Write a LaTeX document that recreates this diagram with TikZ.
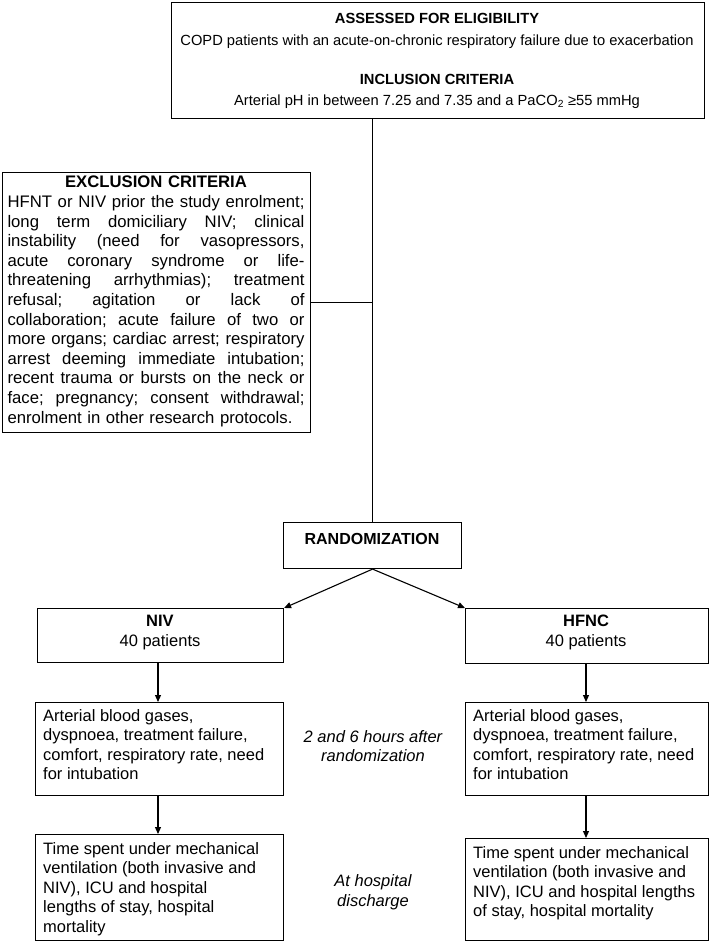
\documentclass[tikz,border=0pt]{standalone}
\usepackage{fontspec}
\setmainfont{Liberation Sans}
\usetikzlibrary{arrows.meta}
\newcommand\jline[1]{\leavevmode\hbox to 297pt{\frenchspacing\spaceskip=0.278em plus 1fil\relax #1}}
\begin{document}
\begin{tikzpicture}[x=1pt,y=-1pt,
  box/.style={draw, line width=1.1pt, inner sep=0pt},
  txt/.style={inner sep=0pt, font=\fontsize{16.5}{19.5}\selectfont},
  toptxt/.style={inner sep=0pt, font=\fontsize{14.7}{19.5}\selectfont},
  arr/.style={line width=1.1pt, -{Triangle[length=7pt,width=6pt]}},
  ln/.style={line width=1.1pt}]
\useasboundingbox (0,0) rectangle (710,948);
% boxes
\node[box, minimum width=533pt, minimum height=116pt, anchor=north west] (top) at (171,2) {};
\node[box, minimum width=308pt, minimum height=260pt, anchor=north west] (excl) at (2,172) {};
\node[box, minimum width=178pt, minimum height=46pt, anchor=north west] (rand) at (283,522) {};
\node[box, minimum width=246pt, minimum height=54pt, anchor=north west] (niv) at (37,608) {};
\node[box, minimum width=243pt, minimum height=55pt, anchor=north west] (hfnc) at (465,608) {};
\node[box, minimum width=248pt, minimum height=93pt, anchor=north west] (l2) at (35,702) {};
\node[box, minimum width=243pt, minimum height=93pt, anchor=north west] (r2) at (465,702) {};
\node[box, minimum width=248pt, minimum height=106pt, anchor=north west] (l3) at (35,834) {};
\node[box, minimum width=243pt, minimum height=102pt, anchor=north west] (r3) at (465,838) {};
% top texts
\node[toptxt, anchor=base] (t1) at (437,23) {\bfseries ASSESSED FOR ELIGIBILITY};
\node[toptxt, anchor=base] (t2) at (437,45) {COPD patients with an acute-on-chronic respiratory failure due to exacerbation};
\node[toptxt, anchor=base] (t3) at (437,84) {\bfseries INCLUSION CRITERIA};
\node[toptxt, anchor=base] (t4) at (437,105) {Arterial pH in between 7.25 and 7.35 and a PaCO\textsubscript{2} ≥55 mmHg};
% exclusion text
\node[txt, anchor=north, align=left, text width=297pt, font=\fontsize{16.7}{19.6}\selectfont] (et) at (156,176) {%
\makebox[297pt]{\bfseries EXCLUSION CRITERIA}\\
\jline{HFNT or NIV prior the study enrolment;}\\
\jline{long term domiciliary NIV; clinical}\\
\jline{instability (need for vasopressors,}\\
\jline{acute coronary syndrome or life-}\\
\jline{threatening arrhythmias); treatment}\\
\jline{refusal; agitation or lack of}\\
\jline{collaboration; acute failure of two or}\\
\jline{more organs; cardiac arrest; respiratory}\\
\jline{arrest deeming immediate intubation;}\\
\jline{recent trauma or bursts on the neck or}\\
\jline{face; pregnancy; consent withdrawal;}\\
enrolment in other research protocols.};
% randomization
\node[txt, anchor=base, font=\fontsize{16}{19.5}\selectfont\bfseries] (rt) at (372,544) {RANDOMIZATION};
% arms
\node[txt, anchor=base, align=center] (nivt) at (160,646) {\bfseries NIV\\40 patients};
\node[txt, anchor=base, align=center] (hfnct) at (586,646) {\bfseries HFNC\\40 patients};
% lower texts
\node[txt, anchor=north west, align=left] (l2t) at (43,709) {Arterial blood gases,\\dyspnoea, treatment failure,\\comfort, respiratory rate, need\\for intubation};
\node[txt, anchor=north west, align=left] (r2t) at (473,709) {Arterial blood gases,\\dyspnoea, treatment failure,\\comfort, respiratory rate, need\\for intubation};
\node[txt, anchor=north west, align=left] (l3t) at (43,842) {Time spent under mechanical\\ventilation (both invasive and\\NIV), ICU and hospital\\lengths of stay, hospital\\mortality};
\node[txt, anchor=north west, align=left] (r3t) at (473,846) {Time spent under mechanical\\ventilation (both invasive and\\NIV), ICU and hospital lengths\\of stay, hospital mortality};
\node[txt, align=center, font=\fontsize{16.5}{19.5}\selectfont\itshape] (m1) at (373,746) {2 and 6 hours after\\randomization};
\node[txt, align=center, font=\fontsize{16.5}{19.5}\selectfont\itshape] (m2) at (373,892) {At hospital\\discharge};
% connectors
\draw[ln] (top.south -| rand.north) -- (rand.north);
\draw[ln] (excl.east) -- (excl.east -| rand.north);
\draw[arr] (rand.south) -- (niv.north east);
\draw[arr] (rand.south) -- (hfnc.north west);
\draw[arr] (niv.south -| 158,0) -- (l2.north -| 158,0);
\draw[arr] (l2.south -| 158,0) -- (l3.north -| 158,0);
\draw[arr] (hfnc.south -| 586,0) -- (r2.north -| 586,0);
\draw[arr] (r2.south -| 586,0) -- (r3.north -| 586,0);
\end{tikzpicture}
\end{document}
